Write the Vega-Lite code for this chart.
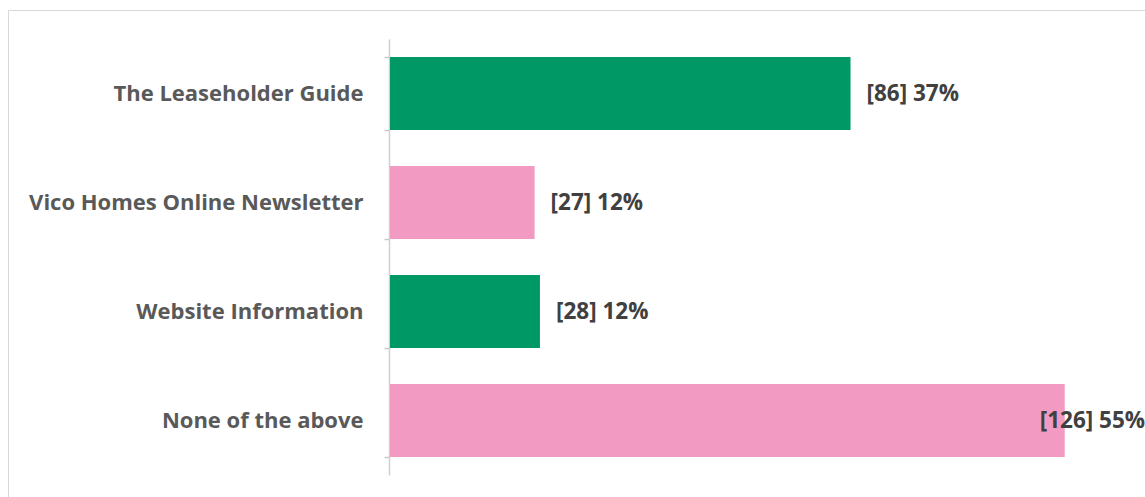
{
  "$schema": "https://vega.github.io/schema/vega-lite/v6.json",
  "width": 1150,
  "height": 500,
  "autosize": {"type": "none"},
  "padding": {"left": 8, "top": 10, "right": 0, "bottom": 0},
  "config": {
    "view": {"stroke": "#d9d9d9", "strokeWidth": 1},
    "font": "Open Sans"
  },
  "data": {
    "values": [
      {"source": "The Leaseholder Guide", "count": 86, "pct": "37%", "group": "A"},
      {"source": "Vico Homes Online Newsletter", "count": 27, "pct": "12%", "group": "B"},
      {"source": "Website Information", "count": 28, "pct": "12%", "group": "A"},
      {"source": "None of the above", "count": 126, "pct": "55%", "group": "B"}
    ]
  },
  "transform": [
    {"calculate": "'[' + datum.count + '] ' + datum.pct", "as": "label"}
  ],
  "encoding": {
    "y": {
      "field": "source",
      "type": "nominal",
      "sort": null,
      "scale": {"range": [29, 465], "paddingInner": 0.33, "paddingOuter": 0.165},
      "axis": {
        "title": null,
        "offset": -381,
        "domainColor": "#d0d0d0",
        "domainWidth": 1.5,
        "tickColor": "#c8c8c8",
        "tickWidth": 1.5,
        "tickSize": 5,
        "tickBand": "extent",
        "labelPadding": 21,
        "labelFontSize": 22,
        "labelFontWeight": "bold",
        "labelColor": "#595959",
        "labelFont": "Open Sans",
        "labelLimit": 600
      }
    },
    "x": {
      "field": "count",
      "type": "quantitative",
      "scale": {"domain": [-71.34, 143.42], "nice": false, "zero": false},
      "axis": null
    }
  },
  "layer": [
    {
      "mark": {"type": "bar"},
      "encoding": {
        "color": {
          "field": "group",
          "type": "nominal",
          "scale": {"domain": ["A", "B"], "range": ["#009966", "#f29ac1"]},
          "legend": null
        }
      }
    },
    {
      "transform": [{"filter": "datum.count < 100"}],
      "mark": {"type": "text", "align": "left", "baseline": "middle", "dx": 16, "fontSize": 22.5, "fontWeight": "bold", "color": "#404040", "font": "Open Sans"},
      "encoding": {"text": {"field": "label"}}
    },
    {
      "transform": [{"filter": "datum.count >= 100"}],
      "mark": {"type": "text", "align": "left", "baseline": "middle", "dx": -25, "fontSize": 22.5, "fontWeight": "bold", "color": "#404040", "font": "Open Sans"},
      "encoding": {"text": {"field": "label"}}
    }
  ]
}
